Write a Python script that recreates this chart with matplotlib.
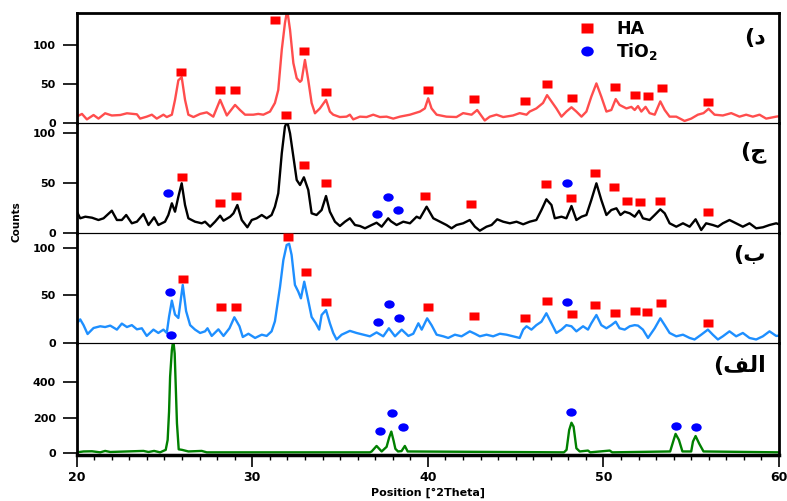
import matplotlib
matplotlib.use("Agg")
import matplotlib.pyplot as plt
from matplotlib.lines import Line2D
from matplotlib.markers import MarkerStyle
from matplotlib.transforms import Affine2D
from matplotlib.ticker import MultipleLocator

plt.rcParams['font.family'] = ['DejaVu Sans']
plt.rcParams['font.weight'] = 'bold'
plt.rcParams['mathtext.fontset'] = 'dejavusans'
plt.rcParams['mathtext.default'] = 'bf'

# ---------------- data ----------------
# panel د (top, red)
x_d = [20.0, 20.3, 20.58, 20.96, 21.24, 21.62, 22.0, 22.48, 22.86, 23.43, 23.61, 23.99, 24.28, 24.56, 24.94,
       25.13, 25.42, 25.6, 25.79, 25.98, 26.17, 26.36, 26.65, 27.03, 27.41, 27.78, 28.17, 28.55, 29.02, 29.3,
       29.59, 30.06, 30.34, 30.63, 31.01, 31.29, 31.48, 31.68, 31.86, 31.99, 32.15, 32.34, 32.53, 32.72, 32.81,
       33.0, 33.19, 33.38, 33.57, 33.85, 34.2, 34.42, 34.61, 34.99, 35.37, 35.56, 35.75, 36.13, 36.51, 36.89,
       37.27, 37.65, 38.03, 38.41, 38.98, 39.55, 39.83, 40.02, 40.21, 40.5, 41.06, 41.63, 42.01, 42.49, 42.81,
       43.24, 43.53, 43.91, 44.29, 44.85, 45.23, 45.62, 45.8, 46.18, 46.56, 46.79, 47.04, 47.32, 47.61, 47.89,
       48.18, 48.46, 48.75, 49.03, 49.31, 49.6, 49.88, 50.17, 50.45, 50.7, 50.92, 51.31, 51.59, 51.78, 51.97,
       52.16, 52.4, 52.63, 52.92, 53.24, 53.49, 53.77, 54.15, 54.62, 55.0, 55.38, 55.7, 55.99, 56.33, 56.8,
       57.28, 57.75, 58.13, 58.51, 58.89, 59.27, 59.84, 60.0]
y_d = [8.5, 12, 5, 10.6, 6, 12.8, 10, 10.6, 12.8, 11.5, 6, 8.5, 11, 6, 11,
       8, 11, 30, 55, 59, 30, 11, 8, 12, 14, 8.5, 30, 10, 23.5, 17,
       11, 11, 12, 11, 15, 26, 42.6, 94, 128, 145, 119.6, 77, 57.7, 53, 55,
       81, 55, 26, 12.8, 19, 30, 15, 11, 8, 8.5, 11, 5, 8.5, 8, 11,
       8, 8.5, 6, 8.5, 11, 15, 19, 32, 19, 11, 8.5, 8, 13, 11, 17,
       3.6, 8.5, 11, 8, 10, 13, 11, 15, 19, 26, 36, 28, 19, 8.5, 15,
       20.5, 15, 8.5, 15, 34, 51, 34, 15, 17, 31, 23.5, 19, 21, 17, 22,
       15, 21, 13, 11, 28, 17, 8.5, 8.5, 3, 6, 11, 13, 18.5, 11, 10,
       13, 8.5, 11, 8.5, 11, 6, 8.5, 9]

# panel ج (black)
x_j = [20.01, 20.2, 20.49, 20.87, 21.24, 21.53, 22.0, 22.29, 22.57, 22.82, 23.14, 23.43, 23.8, 24.09, 24.41,
       24.65, 25.03, 25.22, 25.42, 25.6, 25.79, 25.98, 26.17, 26.36, 26.74, 27.12, 27.31, 27.6, 27.88, 28.17,
       28.36, 28.74, 28.93, 29.15, 29.4, 29.72, 29.97, 30.25, 30.54, 30.82, 31.1, 31.29, 31.48, 31.68, 31.86,
       31.99, 32.15, 32.34, 32.53, 32.72, 32.94, 33.19, 33.38, 33.66, 33.95, 34.2, 34.42, 34.71, 34.99, 35.28,
       35.56, 35.85, 36.13, 36.42, 36.8, 37.08, 37.37, 37.74, 37.9, 38.22, 38.6, 38.98, 39.36, 39.55, 39.93,
       40.31, 40.69, 41.06, 41.35, 41.63, 42.01, 42.39, 42.68, 42.96, 43.34, 43.63, 43.95, 44.29, 44.67, 45.05,
       45.43, 45.8, 46.18, 46.47, 46.75, 47.04, 47.23, 47.61, 47.89, 48.18, 48.46, 48.75, 49.03, 49.31, 49.6,
       49.88, 50.17, 50.45, 50.74, 50.97, 51.21, 51.5, 51.78, 52.03, 52.25, 52.63, 52.92, 53.24, 53.49, 53.77,
       54.15, 54.53, 54.91, 55.25, 55.57, 55.85, 56.23, 56.52, 56.8, 57.18, 57.56, 57.94, 58.32, 58.7, 59.08,
       59.46, 59.84, 60.0]
y_j = [21.6, 15, 16.6, 15.6, 13.3, 15, 22.6, 13.3, 13.3, 18.3, 10, 11.6, 19.3, 8.3, 16,
       8.3, 11.6, 18.3, 30, 21.6, 36.6, 50, 28.3, 15, 11.6, 10, 11.6, 6.6, 11.6, 17.6,
       12.6, 16.6, 20, 28.3, 13.3, 6, 13.3, 15, 18.3, 15, 18.3, 26.6, 40, 80, 106.6,
       112, 100, 76.6, 53.3, 48.3, 56, 43.3, 20, 18.3, 23.3, 37.3, 21.6, 11.6, 7.3, 11.6,
       15, 8.3, 7.3, 5, 8.3, 10.6, 6.6, 15, 12, 8.3, 11.6, 10, 16.6, 15, 26.6,
       15, 11.6, 8.3, 5, 8.3, 10, 13.3, 6.6, 2.6, 6.6, 8.3, 14, 11.6, 10, 11.6,
       9, 11.6, 13.3, 23.3, 34, 28.3, 15, 16.6, 15, 27.3, 13.3, 16.6, 18.3, 33.3, 50,
       33.3, 18.3, 23.3, 25, 18.3, 21.6, 20, 16.6, 22.6, 15, 13.3, 18.3, 24, 20, 10,
       6.6, 10, 6.6, 14, 3.3, 10, 8.3, 6.6, 10, 13.3, 10, 6.6, 10, 5, 6,
       8.3, 10, 9]

# panel ب (blue)
x_b = [20.01, 20.2, 20.39, 20.62, 20.96, 21.34, 21.62, 21.91, 22.29, 22.57, 22.86, 23.14, 23.43, 23.71, 23.99,
       24.37, 24.65, 24.94, 25.13, 25.26, 25.42, 25.6, 25.79, 26.04, 26.23, 26.46, 26.74, 27.03, 27.31, 27.45,
       27.69, 28.07, 28.36, 28.7, 28.98, 29.27, 29.46, 29.78, 30.16, 30.54, 30.82, 31.1, 31.29, 31.58, 31.77,
       31.96, 32.1, 32.24, 32.43, 32.62, 32.77, 32.96, 33.15, 33.38, 33.62, 33.81, 33.95, 34.2, 34.42, 34.61,
       34.8, 35.09, 35.56, 35.94, 36.32, 36.7, 37.08, 37.46, 37.78, 38.13, 38.51, 38.89, 39.17, 39.46, 39.65,
       39.96, 40.21, 40.5, 40.88, 41.16, 41.54, 41.92, 42.39, 42.68, 42.96, 43.34, 43.72, 44.1, 44.48, 44.85,
       45.23, 45.43, 45.62, 45.9, 46.18, 46.47, 46.75, 47.04, 47.32, 47.61, 47.89, 48.18, 48.46, 48.84, 49.12,
       49.31, 49.6, 49.88, 50.17, 50.45, 50.7, 50.92, 51.21, 51.5, 51.78, 51.97, 52.25, 52.54, 52.92, 53.24,
       53.49, 53.77, 54.15, 54.53, 54.91, 55.19, 55.57, 55.95, 56.23, 56.52, 56.8, 57.18, 57.56, 57.94, 58.32,
       58.7, 59.08, 59.46, 59.84, 60.0]
y_b = [20.9, 25, 19, 9.7, 16, 17.8, 17, 18.5, 14.3, 20.6, 17, 19, 14.6, 15.7, 7.7,
       14.3, 10.8, 14.3, 10.8, 27.8, 44.6, 30, 26.5, 61, 33.7, 19, 14.3, 10.8, 12.5, 15.7,
       7.7, 14.6, 7.7, 15.7, 27.2, 17.8, 6.6, 10, 5.6, 9, 7.7, 12.5, 23, 59, 87,
       102.8, 104, 92.4, 61, 54, 47, 64.4, 48, 27.5, 20.9, 14.3, 29.6, 34.8, 20.9, 10.8,
       4, 9, 13, 10.8, 9, 7.3, 11.4, 7.3, 15.7, 7.3, 14.3, 7.7, 10, 20.9, 14.3,
       26.1, 19, 9, 7.3, 5.6, 9, 7.3, 12.5, 10, 7.3, 9, 7.3, 10, 9, 7.3,
       5.6, 14.3, 17.8, 14.3, 19, 22.6, 31.4, 20.9, 10.8, 14.3, 19, 17.8, 12.5, 17.8, 14.3,
       20.9, 29.6, 19, 15.7, 19, 22.6, 15.7, 14.3, 17.8, 19, 18.5, 14.3, 5.6, 15.7, 26.1,
       19, 10.8, 7.3, 9, 5.6, 4, 9, 14.3, 9, 4, 7.3, 12.5, 7.3, 10.8, 5.6,
       4, 7.3, 12.5, 7.7, 8]

# panel الف (green)
x_a = [20.01, 20.39, 20.87, 21.34, 21.62, 21.91, 23.8, 24.09, 24.41, 24.75, 25.07, 25.18, 25.26, 25.32, 25.42,
       25.5, 25.58, 25.63, 25.71, 25.81, 26.0, 26.36, 27.12, 27.41, 36.7, 36.8, 37.08, 37.37, 37.65, 37.8,
       37.92, 38.05, 38.15, 38.3, 38.5, 38.69, 38.85, 47.75, 47.9, 48.05, 48.18, 48.3, 48.46, 48.65, 49.12,
       49.25, 50.36, 50.5, 53.8, 54.0, 54.11, 54.3, 54.5, 55.0, 55.1, 55.25, 55.45, 55.7, 60.0]
y_a = [5, 10, 11, 5, 13, 7, 13, 7, 13, 5, 19, 75, 234, 431, 582,
       640, 563, 413, 169, 22, 19, 10, 13, 5, 5, 10, 41, 10, 36, 90,
       122, 70, 25, 10, 12, 41, 10, 5, 19, 131, 172, 150, 28, 10, 15,
       5, 15, 5, 10, 75, 109, 75, 10, 10, 66, 97, 55, 10, 5]

# phase markers (HA = squares, TiO2 = circles)
ha_d_x = [25.95, 28.17, 29.0, 31.3, 32.96, 34.2, 40.02, 42.63, 45.52, 46.79, 48.2, 50.68, 51.82, 52.56, 53.35, 55.97]
ha_d_y = [66, 42, 42, 131.5, 92.7, 40.5, 42.7, 31.5, 28.6, 50.4, 32.8, 46.5, 36.7, 35.4, 45.3, 27]

ha_j_x = [26.02, 28.17, 29.08, 31.92, 32.96, 34.2, 39.83, 42.43, 46.71, 48.14, 49.54, 50.6, 51.34, 52.06, 53.24, 55.95]
ha_j_y = [56.6, 30, 37.3, 118, 68.3, 50.6, 37.3, 29, 49, 35.6, 60, 46, 32.6, 31.6, 32.6, 21.3]
ti_j_x = [25.22, 37.08, 37.71, 38.31, 47.9]
ti_j_y = [40.6, 19.3, 36.6, 23.3, 50]

ha_b_x = [26.04, 28.22, 29.07, 32.05, 33.04, 34.2, 40.02, 42.63, 45.52, 46.79, 48.2, 49.54, 50.68, 51.78, 52.48, 53.3, 55.97]
ha_b_y = [67.3, 37.6, 37.6, 111, 75, 43.5, 38.3, 28.9, 26.1, 44.2, 30.3, 40, 31.4, 34.1, 33.1, 41.8, 20.9]
ti_b_x = [25.32, 37.17, 37.78, 38.35, 47.9]
ti_b_y = [54, 22.6, 41, 26.1, 42.9]

ti_a_x = [25.35, 37.27, 37.93, 38.6, 48.18, 54.11, 55.29]
ti_a_y = [666, 127, 225, 150, 231, 154, 148]

panel_labels = ['\u062f)', '\u062c)', '\u0628)', '\u0627\u0644\u0641)']
# visual-order presentation forms for rendering without text shaping
panel_labels_visual = ['(\uFEA9', '(\uFE9D', '(\uFE8F', '(\uFED2\uFEDF\uFE8D']
x_ticks = [20, 30, 40, 50, 60]
legend_labels = ['HA', 'TiO$_2$']

# ---------------- figure ----------------
W, H = 787, 501
fig = plt.figure(figsize=(W / 100, H / 100), dpi=100)

left = 76.7 / W
width = (779 - 76.7) / W
edges = [13, 123.3, 233.3, 343.3, 455]
ylims = [(0, 141), (0, 110), (0, 115), (-10, 620)]
yticks = [[0, 50, 100], [0, 50, 100], [0, 50, 100], [0, 200, 400]]
series = [(x_d, y_d, '#ff4d4d'), (x_j, y_j, '#000000'), (x_b, y_b, '#1e8fff'), (x_a, y_a, '#008000')]
label_y = [38, 152, 255, 366]

sq = MarkerStyle('s', transform=Affine2D().scale(1.0, 0.85))
ci = MarkerStyle('o', transform=Affine2D().scale(1.0, 0.8))

axes = []
for i in range(4):
    top, bot = edges[i], edges[i + 1]
    ax = fig.add_axes([left, 1 - bot / H, width, (bot - top) / H])
    axes.append(ax)
    xs, ys, c = series[i]
    ax.plot(xs, ys, color=c, lw=1.7, solid_joinstyle='round', zorder=2)
    ax.set_xlim(20, 60)
    ax.set_ylim(*ylims[i])
    ax.set_yticks(yticks[i])
    ax.tick_params(axis='y', direction='out', length=10, width=1.2, pad=5, labelsize=8)
    for s in ['left', 'right']:
        ax.spines[s].set_linewidth(2.0)
    ax.spines['top'].set_linewidth(2.0 if i == 0 else 0.8)
    ax.spines['bottom'].set_linewidth(2.5 if i == 3 else 0.8)
    for s in ax.spines.values():
        s.set_zorder(5)
    if i < 3:
        ax.tick_params(axis='x', bottom=False, labelbottom=False)
    else:
        ax.set_xticks(x_ticks)
        ax.xaxis.set_minor_locator(MultipleLocator(1))
        ax.tick_params(axis='x', which='major', direction='out', length=8.5, width=1.2, pad=3, labelsize=9)
        ax.tick_params(axis='x', which='minor', direction='out', length=3.5, width=1.0)
        ax.set_xlabel('Position [\u00b02Theta]', fontsize=8, fontweight='bold', labelpad=3)
    ax.patch.set_alpha(0)
    fig.text(766 / W, 1 - label_y[i] / H, panel_labels_visual[i], ha='right', va='center',
             fontsize=16, fontweight='bold', family=['DejaVu Sans'])

ms_sq, ms_ci = 7.5, 7.5
axes[0].plot(ha_d_x, ha_d_y, ls='none', marker=sq, ms=ms_sq, color='#ff0000', mec='none', clip_on=False, zorder=6)
axes[1].plot(ha_j_x, ha_j_y, ls='none', marker=sq, ms=ms_sq, color='#ff0000', mec='none', clip_on=False, zorder=6)
axes[1].plot(ti_j_x, ti_j_y, ls='none', marker=ci, ms=ms_ci, color='#0000ff', mec='none', clip_on=False, zorder=6)
axes[2].plot(ha_b_x, ha_b_y, ls='none', marker=sq, ms=ms_sq, color='#ff0000', mec='none', clip_on=False, zorder=6)
axes[2].plot(ti_b_x, ti_b_y, ls='none', marker=ci, ms=ms_ci, color='#0000ff', mec='none', clip_on=False, zorder=6)
axes[3].plot(ti_a_x, ti_a_y, ls='none', marker=ci, ms=ms_ci, color='#0000ff', mec='none', clip_on=False, zorder=6)

fig.text(16 / W, 1 - 222 / H, 'Counts', rotation=90, ha='center', va='center', fontsize=7.5, fontweight='bold')

handles = [Line2D([], [], ls='none', marker=sq, ms=9, color='#ff0000', mec='none'),
           Line2D([], [], ls='none', marker=ci, ms=9, color='#0000ff', mec='none')]
fig.legend(handles, legend_labels, loc='upper left', bbox_to_anchor=(578 / W, 1 - 20 / H),
           frameon=False, fontsize=12.5, handlelength=1.0, handletextpad=1.2, labelspacing=0.15,
           borderpad=0, borderaxespad=0)

fig.savefig('out.png', dpi=100)
